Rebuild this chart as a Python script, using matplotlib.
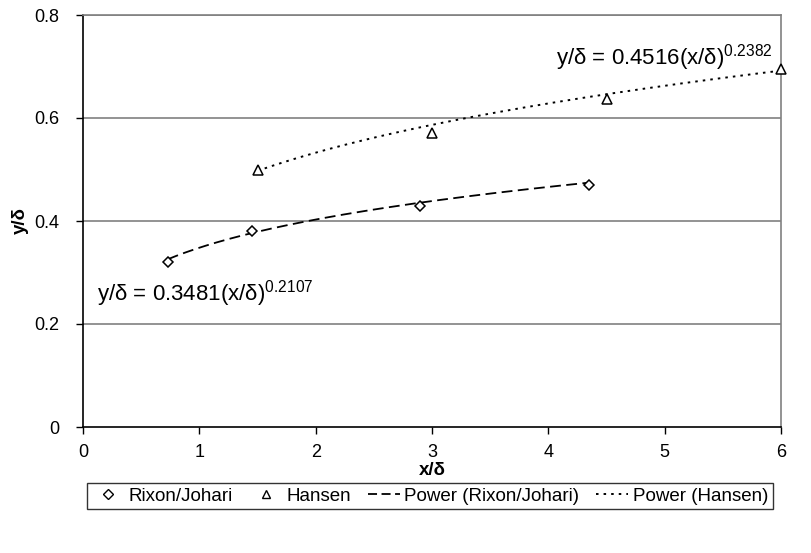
import numpy as np
import matplotlib
matplotlib.use("Agg")
import matplotlib.pyplot as plt
from matplotlib.lines import Line2D

plt.rcParams['font.family'] = ['Liberation Sans', 'DejaVu Sans']
plt.rcParams['mathtext.fontset'] = 'custom'
plt.rcParams['mathtext.rm'] = 'Liberation Sans'
plt.rcParams['mathtext.it'] = 'Liberation Sans'

# Measured points
rixon_x = [0.73, 1.45, 2.9, 4.35]
rixon_y = [0.32, 0.38, 0.43, 0.47]
hansen_x = [1.5, 3.0, 4.5, 6.0]
hansen_y = [0.50, 0.57, 0.637, 0.695]

# Power-law trendline coefficients y = a * x^b
rixon_a, rixon_b = 0.3481, 0.2107
hansen_a, hansen_b = 0.4516, 0.2382

x_ticks = [0, 1, 2, 3, 4, 5, 6]
y_ticks = [0, 0.2, 0.4, 0.6, 0.8]
y_tick_labels = ['0', '0.2', '0.4', '0.6', '0.8']

W, H = 811, 553
fig = plt.figure(figsize=(W / 100, H / 100), dpi=100)
ax = fig.add_axes([83 / W, 1 - 427 / H, (781 - 83) / W, (427 - 15) / H])

ax.set_xlim(0, 6)
ax.set_ylim(0, 0.8)
ax.set_xticks(x_ticks)
ax.set_xticklabels([str(v) for v in x_ticks])
ax.set_yticks(y_ticks)
ax.set_yticklabels(y_tick_labels)
ax.tick_params(direction='out', length=5, width=1, colors='black',
               labelsize=13)
ax.tick_params(axis='x', pad=7)
ax.tick_params(axis='y', pad=12)

for y in y_ticks[1:]:
    ax.axhline(y, color='#808080', lw=1.2, zorder=0)

ax.spines['left'].set_color('black')
ax.spines['bottom'].set_color('black')
ax.spines['top'].set_color('#808080')
ax.spines['right'].set_color('#808080')
for s in ax.spines.values():
    s.set_linewidth(1.2)

# Trendlines over each data range
rx = np.linspace(min(rixon_x), max(rixon_x), 200)
hx = np.linspace(min(hansen_x), max(hansen_x), 200)
ax.plot(rx, rixon_a * rx ** rixon_b, color='black', lw=1.3,
        dashes=(6, 3), zorder=2)
ax.plot(hx, hansen_a * hx ** hansen_b, color='black', lw=1.4,
        dashes=(1.3, 2.6), zorder=2)

ax.plot(rixon_x, rixon_y, linestyle='none', marker='D', markersize=5.5,
        markerfacecolor='white', markeredgecolor='black', markeredgewidth=1.1,
        zorder=3)
ax.plot(hansen_x, hansen_y, linestyle='none', marker='^', markersize=7.5,
        markerfacecolor='white', markeredgecolor='black', markeredgewidth=1.1,
        zorder=3, clip_on=False)

ax.text(4.066, 0.718, r'y/δ = 0.4516(x/δ)$^{0.2382}$', fontsize=16,
        ha='left', va='center')
ax.text(0.12, 0.26, r'y/δ = 0.3481(x/δ)$^{0.2107}$', fontsize=16,
        ha='left', va='center')

ax.set_xlabel('x/δ', fontsize=13.5, fontweight='bold', labelpad=1)
ax.set_ylabel('y/δ', fontsize=13.5, fontweight='bold', labelpad=4)

handles = [
    Line2D([], [], linestyle='none', marker='D', markersize=5,
           markerfacecolor='white', markeredgecolor='black', markeredgewidth=1),
    Line2D([], [], linestyle='none', marker='^', markersize=6,
           markerfacecolor='white', markeredgecolor='black', markeredgewidth=1),
    Line2D([], [], color='black', lw=1.3, dashes=(5, 2.5)),
    Line2D([], [], color='black', lw=1.4, dashes=(1.3, 2.6)),
]
labels = ['Rixon/Johari', 'Hansen', 'Power (Rixon/Johari)', 'Power (Hansen)']
leg = fig.legend(handles, labels, loc='center', bbox_to_anchor=(430 / W, 1 - 496 / H),
                 ncol=4, fontsize=13.5, frameon=True, fancybox=False,
                 edgecolor='black', handlelength=1.7, handletextpad=0.25,
                 columnspacing=0.9, borderpad=0.25)
leg.get_frame().set_linewidth(1.0)

fig.savefig('out.png', dpi=100)
